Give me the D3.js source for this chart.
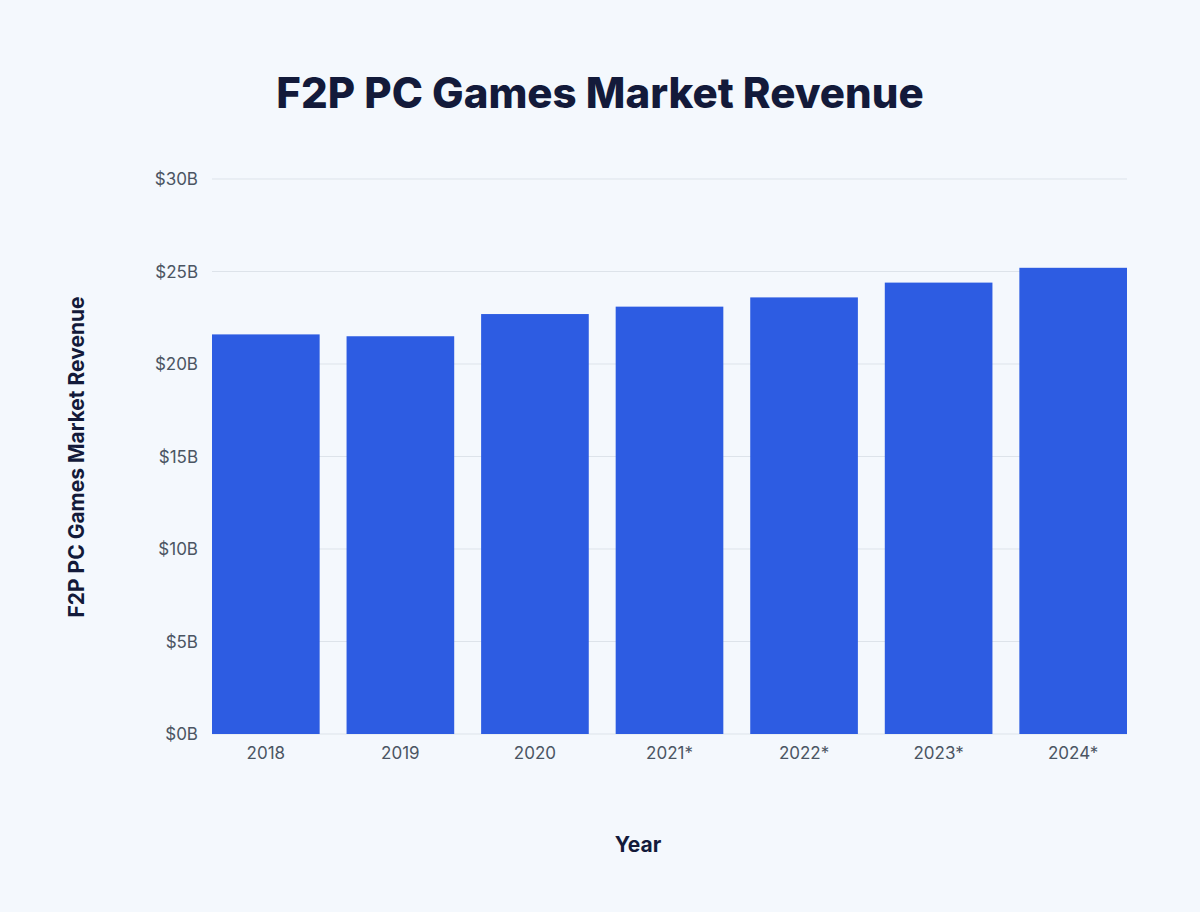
<!DOCTYPE html>
<html><head><meta charset="utf-8">
<script src="https://cdn.jsdelivr.net/npm/d3@7"></script>
<style>body{margin:0;background:#f4f8fd;font-family:Inter,"Open Sans",sans-serif;}</style>
</head><body><svg id="c" width="1200" height="912"></svg>
<script>
const categories=["2018","2019","2020","2021*","2022*","2023*","2024*"];
const values=[21.6,21.5,22.7,23.1,23.6,24.4,25.2];
const ticks=[0,5,10,15,20,25,30];
const svg=d3.select("#c");
svg.append("rect").attr("width",1200).attr("height",912).attr("fill","#f4f8fd");
const x=d3.scaleBand().domain(categories).range([212,1127]).paddingInner(0.2).paddingOuter(0);
const y=d3.scaleLinear().domain([0,30]).range([734,179]);
svg.selectAll(".g").data(ticks).enter().append("line").attr("x1",212).attr("x2",1127)
 .attr("y1",d=>y(d)).attr("y2",d=>y(d)).attr("stroke","#dde3ea").attr("stroke-width",1);
svg.selectAll(".yt").data(ticks).enter().append("text").attr("x",198).attr("y",d=>y(d)+6)
 .attr("text-anchor","end").attr("font-size",17).attr("fill","#4b5563").text(d=>"$"+d+"B");
svg.selectAll(".b").data(values).enter().append("rect").attr("x",(d,i)=>x(categories[i]))
 .attr("width",x.bandwidth()).attr("y",d=>y(d)).attr("height",d=>y(0)-y(d)).attr("fill","#2d5ce2");
svg.selectAll(".xt").data(categories).enter().append("text").attr("x",d=>x(d)+x.bandwidth()/2)
 .attr("y",759).attr("text-anchor","middle").attr("font-size",17).attr("fill","#4b5563").text(d=>d);
svg.append("text").attr("x",600).attr("y",108).attr("text-anchor","middle").attr("font-size",42)
 .attr("font-weight",800).attr("fill","#131a3a").text("F2P PC Games Market Revenue");
svg.append("text").attr("x",638).attr("y",852).attr("text-anchor","middle").attr("font-size",21)
 .attr("font-weight",700).attr("fill","#131a3a").text("Year");
svg.append("text").attr("transform","translate(84,457) rotate(-90)").attr("text-anchor","middle")
 .attr("font-size",21).attr("font-weight",700).attr("fill","#131a3a").text("F2P PC Games Market Revenue");
</script></body></html>
